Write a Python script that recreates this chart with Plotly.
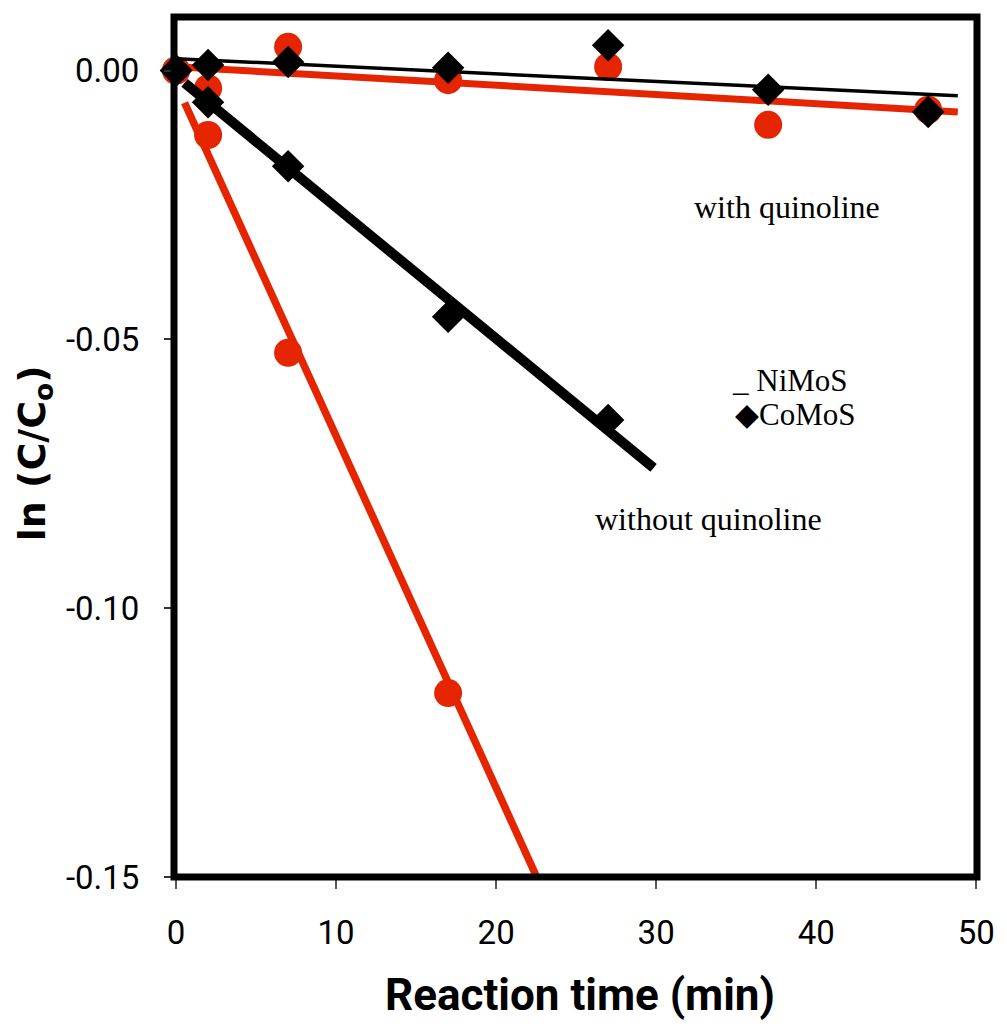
import plotly.graph_objects as go

# ---------------- data ----------------
time_min = [0, 2, 7, 17, 27, 37, 47]

# NiMoS (red circles)
nimos_with_q = [0.0, -0.0033, 0.0044, -0.0018, 0.0007, -0.0101, -0.0073]
time_without_ni = [0, 2, 7, 17]
nimos_without_q = [0.0, -0.0120, -0.0525, -0.1158]

# CoMoS (black diamonds)
comos_with_q = [0.0, 0.0010, 0.0016, 0.0005, 0.0047, -0.0036, -0.0077]
time_without_co = [0, 2, 7, 17, 27]
comos_without_q = [0.0, -0.0059, -0.0178, -0.0458, -0.0650]

# trend lines (end points)
trend_ni_with_x = [0.0, 48.85]
trend_ni_with_y = [0.0007, -0.0077]
trend_co_with_x = [0.0, 48.85]
trend_co_with_y = [0.0022, -0.0047]
trend_ni_without_x = [0.53, 22.9]
trend_ni_without_y = [-0.0060, -0.1524]
trend_co_without_x = [0.53, 29.84]
trend_co_without_y = [-0.0023, -0.0739]

x_tickvals = [0, 10, 20, 30, 40, 50]
x_ticktext = ["0", "10", "20", "30", "40", "50"]
y_tickvals = [0.0, -0.05, -0.10, -0.15]
y_ticktext = ["0.00", "-0.05", "-0.10", "-0.15"]

RED = "#E52500"
BLACK = "#000000"

fig = go.Figure()

# red trend lines
fig.add_trace(go.Scatter(x=trend_ni_with_x, y=trend_ni_with_y, mode="lines",
                         line=dict(color=RED, width=7), showlegend=False, hoverinfo="skip"))
fig.add_trace(go.Scatter(x=trend_ni_without_x, y=trend_ni_without_y, mode="lines",
                         line=dict(color=RED, width=7.5), showlegend=False, hoverinfo="skip"))
# red markers
fig.add_trace(go.Scatter(x=time_min, y=nimos_with_q, mode="markers", cliponaxis=False,
                         marker=dict(symbol="circle", size=28, color=RED, line=dict(width=0)),
                         showlegend=False))
fig.add_trace(go.Scatter(x=time_without_ni, y=nimos_without_q, mode="markers", cliponaxis=False,
                         marker=dict(symbol="circle", size=28, color=RED, line=dict(width=0)),
                         showlegend=False))
# black trend lines
fig.add_trace(go.Scatter(x=trend_co_with_x, y=trend_co_with_y, mode="lines",
                         line=dict(color=BLACK, width=3.5), showlegend=False, hoverinfo="skip"))
fig.add_trace(go.Scatter(x=trend_co_without_x, y=trend_co_without_y, mode="lines",
                         line=dict(color=BLACK, width=10), showlegend=False, hoverinfo="skip"))
# black markers
fig.add_trace(go.Scatter(x=time_min, y=comos_with_q, mode="markers", cliponaxis=False,
                         marker=dict(symbol="diamond", size=25, color=BLACK, line=dict(width=0)),
                         showlegend=False))
fig.add_trace(go.Scatter(x=time_without_co, y=comos_without_q, mode="markers", cliponaxis=False,
                         marker=dict(symbol="diamond", size=25, color=BLACK, line=dict(width=0)),
                         showlegend=False))

tick_font = dict(family="Roboto, Arial, sans-serif", size=33, color="black")
serif = "Liberation Serif, Times New Roman, serif"

fig.update_layout(
    width=1007, height=1026, autosize=False,
    margin=dict(l=174, r=22, t=17, b=149, pad=0),
    paper_bgcolor="white", plot_bgcolor="white",
    showlegend=False,
    xaxis=dict(range=[-0.13, 50.05], tickvals=x_tickvals, ticktext=x_ticktext,
               ticks="outside", ticklen=11, tickwidth=1.5, tickcolor="#555555",
               showgrid=False, zeroline=False, showline=False,
               tickfont=tick_font, ticklabelstandoff=15),
    yaxis=dict(range=[-0.15, 0.00995], tickvals=y_tickvals, ticktext=y_ticktext,
               ticks="outside", ticklen=9, tickwidth=1.5, tickcolor="#333333",
               showgrid=False, zeroline=False, showline=False,
               tickfont=tick_font, ticklabelstandoff=18),
    shapes=[dict(type="rect", xref="paper", yref="paper", x0=0, x1=1, y0=0, y1=1,
                 line=dict(color="black", width=7), fillcolor="rgba(0,0,0,0)", layer="above")],
    annotations=[
        dict(text="Reaction time (min)", xref="paper", yref="paper", x=0.506, y=-0.137,
             xanchor="center", yanchor="middle", showarrow=False,
             font=dict(family="Roboto, Arial, sans-serif", size=44, color="black", weight="bold")),
        dict(text="ln (C/C<sub>o</sub>)", xref="paper", yref="paper", x=-0.174, y=0.493,
             xanchor="center", yanchor="middle", showarrow=False, textangle=-90,
             font=dict(family="DejaVu Sans, Verdana, sans-serif", size=38, color="black", weight="bold")),
        dict(text="with quinoline", xref="x", yref="y", x=38.2, y=-0.0254,
             xanchor="center", yanchor="middle", showarrow=False,
             font=dict(family=serif, size=32, color="black")),
        dict(text="without quinoline", xref="x", yref="y", x=33.3, y=-0.0834,
             xanchor="center", yanchor="middle", showarrow=False,
             font=dict(family=serif, size=32, color="black")),
        dict(text="_ NiMoS", xref="x", yref="y", x=34.6, y=-0.0577,
             xanchor="left", yanchor="middle", showarrow=False,
             font=dict(family=serif, size=31, color="black")),
        dict(text="\u25c6CoMoS", xref="x", yref="y", x=34.8, y=-0.0640,
             xanchor="left", yanchor="middle", showarrow=False,
             font=dict(family=serif, size=31, color="black")),
    ],
)

fig.write_html("out.html")
